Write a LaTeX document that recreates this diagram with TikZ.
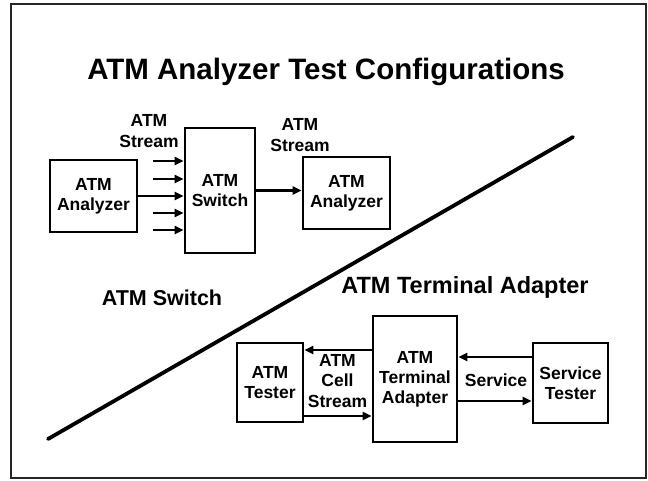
\documentclass[tikz,border=0pt]{standalone}
\usepackage{fontspec}
\setmainfont{Liberation Sans}
\usetikzlibrary{arrows.meta}
\begin{document}
\begin{tikzpicture}[x=1pt,y=-1pt,
  box/.style={draw, line width=2.8pt, inner sep=0pt, align=center,
    font=\fontsize{17.5}{20}\selectfont\bfseries},
  lbl/.style={inner sep=0pt, align=center, font=\fontsize{17.5}{20.5}\selectfont\bfseries},
  head/.style={inner sep=0pt, font=\bfseries},
  arr/.style={line width=2.4pt, -{Triangle[length=9pt,width=8pt]}},
  divider/.style={line width=3.8pt, line cap=round}]
\useasboundingbox (0,0) rectangle (648,480);
\fill[white] (0,0) rectangle (648,480);
% outer frame
\draw[line width=1.4pt, black!85] (11,4) rectangle (646,478);

% headings
\node[head, font=\fontsize{29.5}{33}\selectfont\bfseries] (title) at (326,72) {ATM Analyzer Test Configurations};
\node[head, font=\fontsize{21.5}{24}\selectfont\bfseries] (hsw) at (162,298) {ATM Switch};
\node[head, font=\fontsize{23.5}{26}\selectfont\bfseries] (hta) at (465,287) {ATM Terminal Adapter};

% dividing line
\coordinate (d1) at (48,439);
\coordinate (d2) at (573,137);
\draw[divider] (d1) -- (d2);

% switch test configuration
\node[box, minimum width=87pt, minimum height=72pt] (an1) at (93.5,196) {ATM\\Analyzer};
\node[box, minimum width=70pt, minimum height=125pt] (sw) at (220,190.5) {ATM\\Switch};
\node[box, minimum width=87pt, minimum height=72pt] (an2) at (346.5,193) {ATM\\Analyzer};
\node[lbl] (ls1) at (149,131) {ATM\\Stream};
\node[lbl] (ls2) at (300,135) {ATM\\Stream};

\coordinate (s1) at (153,161);
\coordinate (s2) at (153,179);
\coordinate (s3) at (153,196);
\coordinate (s4) at (153,213);
\coordinate (s5) at (153,230);
\draw[arr] (s1) -- (sw.west |- s1);
\draw[arr] (s2) -- (sw.west |- s2);
\draw[arr] (an1.east |- s3) -- (sw.west |- s3);
\draw[arr] (s4) -- (sw.west |- s4);
\draw[arr] (s5) -- (sw.west |- s5);
\draw[arr] (sw.east) -- (an2.west |- sw.east);

% terminal adapter test configuration
\node[box, minimum width=66pt, minimum height=79pt] (te) at (270,382.5) {ATM\\Tester};
\node[box, minimum width=84pt, minimum height=126pt] (ta) at (415,379) {ATM\\Terminal\\Adapter};
\node[box, minimum width=75pt, minimum height=80pt] (st) at (570.5,383) {Service\\Tester};
\node[lbl] (lcs) at (337.5,381) {ATM\\Cell\\Stream};
\node[lbl] (lsv) at (496,380) {Service};

\coordinate (r1) at (0,350);
\coordinate (r2) at (0,416);
\coordinate (r3) at (0,357);
\coordinate (r4) at (0,401);
\draw[arr] (ta.west |- r1) -- (te.east |- r1);
\draw[arr] (te.east |- r2) -- (ta.west |- r2);
\draw[arr] (st.west |- r3) -- (ta.east |- r3);
\draw[arr] (ta.east |- r4) -- (st.west |- r4);
\end{tikzpicture}
\end{document}
